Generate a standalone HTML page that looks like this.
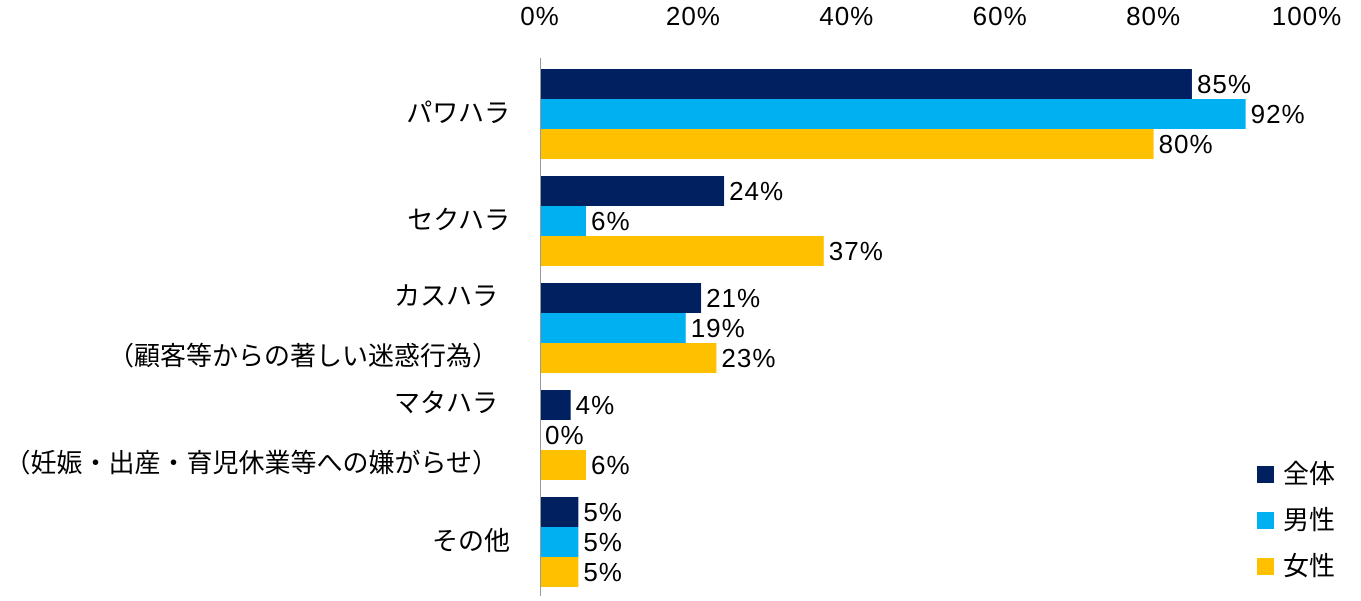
<!DOCTYPE html>
<html><head><meta charset="utf-8"><style>
body{margin:0;background:#fff;}
svg text{font-family:"Liberation Sans","Noto Sans CJK JP",sans-serif;font-size:25px;fill:#000;}
svg text.cat{font-size:26px;}
svg text.num{font-size:26px;letter-spacing:1px;}
</style></head><body>
<svg id="chart" width="1361" height="596" xmlns="http://www.w3.org/2000/svg"></svg>
<script>
const categories=[["パワハラ"],["セクハラ"],["カスハラ","（顧客等からの著しい迷惑行為）"],["マタハラ","（妊娠・出産・育児休業等への嫌がらせ）"],["その他"]];
const seriesNames=["全体","男性","女性"];
const seriesAll=[85,24,21,4,5];
const seriesMale=[92,6,19,0,5];
const seriesFemale=[80,37,23,6,5];
const tickLabels=["0%","20%","40%","60%","80%","100%"];
const tickValues=[0,20,40,60,80,100];
const colors=["#002060","#00B0F0","#FFC000"];
const svg=document.getElementById('chart');
const NS="http://www.w3.org/2000/svg";
const x0=540,W=767;
const xs=v=>x0+v/100*W;
const gTop=69,gStep=107,bh=30;
function mk(t,a,txt){const e=document.createElementNS(NS,t);for(const k in a)e.setAttribute(k,a[k]);if(txt!==undefined)e.textContent=txt;svg.appendChild(e);return e;}
tickValues.forEach((v,i)=>{const t=mk('text',{x:xs(v),y:25,'text-anchor':'middle','class':'num'},tickLabels[i]);

});
const series=[seriesAll,seriesMale,seriesFemale];
categories.forEach((c,i)=>{
 const gy=gTop+i*gStep;
 series.forEach((s,j)=>{
  const y=gy+j*bh;
  const r=mk('rect',{x:x0,y:y,width:xs(s[i])-x0,height:bh,fill:colors[j]});
  
  
  const t=mk('text',{x:xs(s[i])+5,y:y+bh/2+9,'class':'num'},s[i]+'%');
  
  
 });
 const cy=gy+45;
 if(c.length===1){const t=mk('text',{x:510,y:cy+8,'text-anchor':'end','class':'cat'},c[0]);
  
  }
 else{const a=mk('text',{x:498,y:cy-23,'text-anchor':'end','class':'cat'},c[0]);
  
  
  const b=mk('text',{x:498,y:cy+37,'text-anchor':'end','class':'cat'},c[1]);
  
  }
});
const ax=mk('line',{x1:x0+0.5,x2:x0+0.5,y1:58,y2:596,stroke:'#999','stroke-width':1});


seriesNames.forEach((n,j)=>{
 const y=474+j*46;
 const r=mk('rect',{x:1257,y:y-8,width:17,height:17,fill:colors[j]});
 
 
 const t=mk('text',{x:1283,y:y+9,'class':'cat'},n);
 
 
});
</script>
</body></html>
